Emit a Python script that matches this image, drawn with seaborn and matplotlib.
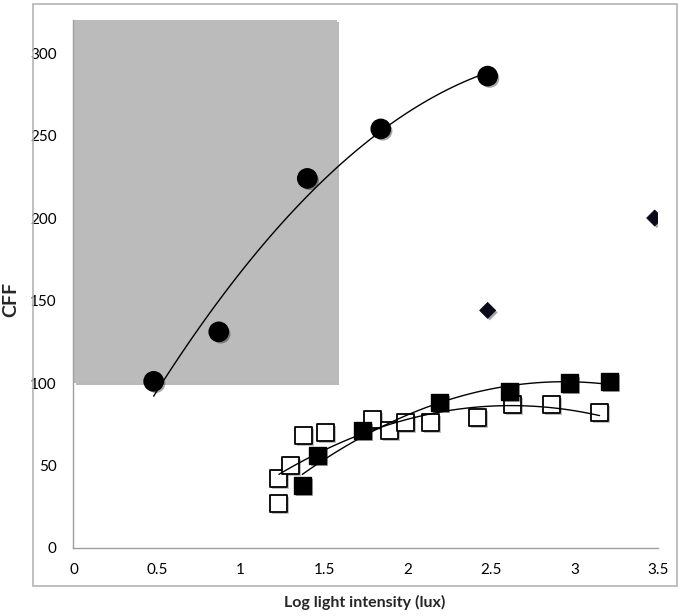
import matplotlib
matplotlib.use("Agg")
import matplotlib.pyplot as plt
import matplotlib.patheffects as pe
import seaborn as sns
import pandas as pd

# Datos
circ_x = [0.48, 0.87, 1.40, 1.84, 2.48]
circ_y = [101, 131, 224, 254, 286]

diam_x = [2.48, 3.48]
diam_y = [144, 200]

sq_lleno_x = [1.37, 1.46, 1.73, 2.19, 2.61, 2.97, 3.21]
sq_lleno_y = [38, 56, 71, 88, 95, 100, 101]

sq_vacio_x = [1.23, 1.23, 1.30, 1.375, 1.51, 1.79, 1.89, 1.99, 2.14, 2.42, 2.63, 2.86, 3.15]
sq_vacio_y = [27, 42, 50, 68, 70, 78, 71, 76, 76, 79, 87, 87, 82]

zona_x = [0, 1.58]
zona_y = [100, 320]

x_ticks = [0, 0.5, 1, 1.5, 2, 2.5, 3, 3.5]
x_labels = ['0', '0.5', '1', '1.5', '2', '2.5', '3', '3.5']
y_ticks = [0, 50, 100, 150, 200, 250, 300]

df_circ = pd.DataFrame({'x': circ_x, 'y': circ_y})
df_diam = pd.DataFrame({'x': diam_x, 'y': diam_y})
df_lleno = pd.DataFrame({'x': sq_lleno_x, 'y': sq_lleno_y})
df_vacio = pd.DataFrame({'x': sq_vacio_x, 'y': sq_vacio_y})

sns.set_style("white")
plt.rcParams['font.family'] = ['Lato', 'DejaVu Sans']

fig = plt.figure(figsize=(6.83, 6.16), dpi=100)
ax = fig.add_axes([0.1076, 0.1104, 0.8558, 0.8571])

# Marco exterior del grafico
marco = plt.Rectangle((0.0483, 0.0487), 0.9427, 0.944, transform=fig.transFigure,
                      fill=False, edgecolor='#b4b4b4', linewidth=1.2)
fig.patches.append(marco)

# Zona sombreada
ax.fill_between(zona_x, zona_y[0], zona_y[1], color='#bbbbbb', linewidth=0, zorder=0)

sombra = [pe.SimplePatchShadow(offset=(1.5, -1.5), alpha=0.35), pe.Normal()]

# Lineas de tendencia polinomicas (orden 2)
for d in [df_circ, df_lleno, df_vacio]:
    sns.regplot(data=d, x='x', y='y', order=2, ci=None, scatter=False, truncate=True,
                ax=ax, line_kws={'color': 'black', 'linewidth': 1.0, 'zorder': 5})

# Marcadores
sns.scatterplot(data=df_circ, x='x', y='y', marker='o', s=190, color='black',
                edgecolor='black', ax=ax, zorder=4)
sns.scatterplot(data=df_vacio, x='x', y='y', marker='s', s=150, color='white',
                edgecolor='black', linewidth=1.3, ax=ax, zorder=3)
sns.scatterplot(data=df_lleno, x='x', y='y', marker='s', s=150, color='black',
                edgecolor='black', ax=ax, zorder=4)
sns.scatterplot(data=df_diam, x='x', y='y', marker='D', s=65, color='#0a0a1a',
                edgecolor='#0a0a1a', ax=ax, zorder=4)
for col in ax.collections:
    if col.get_offsets().shape[0] > 0:
        col.set_path_effects(sombra)

ax.set_xlim(0, 3.5)
ax.set_ylim(0, 320)
ax.set_xticks(x_ticks)
ax.set_xticklabels(x_labels)
ax.set_yticks(y_ticks)

for s in ['top', 'right']:
    ax.spines[s].set_visible(False)
for s in ['left', 'bottom']:
    ax.spines[s].set_color('#a0a0a0')
    ax.spines[s].set_linewidth(1.0)
ax.spines['left'].set_zorder(0.5)

ax.tick_params(axis='both', which='major', direction='out', length=4, width=1,
               color='#a0a0a0', labelsize=11, labelcolor='black')
ax.tick_params(axis='x', pad=7)
ax.tick_params(axis='y', pad=8)

ax.set_xlabel('Log light intensity (lux)', fontsize=11.5, fontweight='bold')
ax.set_ylabel('CFF', fontsize=14, fontweight='bold')
ax.xaxis.set_label_coords(0.499, -0.088)
ax.yaxis.set_label_coords(-0.093, 0.47)

fig.savefig('out.png', dpi=100)
